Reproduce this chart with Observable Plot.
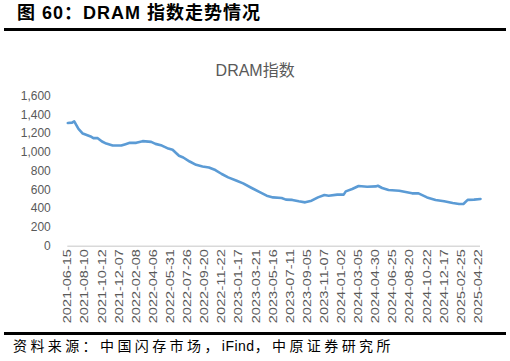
<!DOCTYPE html>
<html><head><meta charset="utf-8">
<script src="https://cdn.jsdelivr.net/npm/d3@7"></script>
<script src="https://cdn.jsdelivr.net/npm/@observablehq/plot@0.6"></script>
<style>
body{margin:0;background:#fff;width:510px;height:361px;position:relative;overflow:hidden;font-family:"Liberation Sans",Arial,"Noto Sans CJK SC",sans-serif;}
#h{position:absolute;left:17px;top:1px;font-size:18px;font-weight:bold;line-height:24px;white-space:nowrap;color:#000;letter-spacing:1px;}
.rule{position:absolute;left:4px;width:502px;height:3px;background:#000;}
#chart{position:absolute;left:0;top:35px;}
#src{position:absolute;left:13px;top:335px;font-size:14px;letter-spacing:3.4px;line-height:20px;white-space:nowrap;color:#000;font-family:"Noto Sans CJK SC","Liberation Sans",sans-serif;}
#src .lat{letter-spacing:0.5px;font-family:"Liberation Sans",Arial,sans-serif;}
</style></head><body>
<div id="h">图 60：DRAM 指数走势情况</div>
<div class="rule" style="top:28px"></div>
<div id="chart"></div>
<div class="rule" style="top:332px"></div>
<div id="src">资料来源：中国闪存市场，<span class="lat">iFind</span>，中原证券研究所</div>
<script>
const chartTitle = "DRAM指数";
const tickLabels = ["2021-06-15","2021-08-10","2021-10-12","2021-12-07","2022-02-08","2022-04-06","2022-05-31","2022-07-26","2022-09-20","2022-11-22","2023-01-17","2023-03-21","2023-05-16","2023-07-11","2023-09-05","2023-11-07","2024-01-02","2024-03-05","2024-04-30","2024-06-25","2024-08-20","2024-10-22","2024-12-17","2025-02-25","2025-04-22"];
const tickWeeks = tickLabels.map((_, i) => i * 8);
const yTicks = [0,200,400,600,800,1000,1200,1400,1600];
const weeks = [0,2,3,5,7,11,12,14,16,18,21,25,27,29,32,35,39,41,44,47,49,52,54,57,60,63,66,69,72,75,79,82,86,90,93,96,100,102,105,108,111,114,117,120,122,126,129,130,133,136,140,144,145,147,150,155,158,161,164,168,172,176,180,183,185,187,190,193];
const dramIndex = [1313,1316,1330,1250,1200,1165,1151,1151,1115,1093,1072,1072,1087,1101,1101,1119,1111,1090,1072,1040,1027,963,945,902,867,849,839,811,769,733,697,669,620,573,538,520,514,496,493,478,467,485,520,546,538,549,549,584,609,641,634,637,644,620,599,591,577,563,563,520,493,478,460,450,450,493,496,503];

const data = weeks.map((w, i) => ({week: w, value: dramIndex[i]}));

const chart = Plot.plot({
  width: 510, height: 295,
  marginLeft: 67.3, marginRight: 30, marginTop: 60.5, marginBottom: 84.3,
  style: {fontFamily: "'Liberation Sans', Arial, 'Noto Sans CJK SC', sans-serif", background: "transparent", overflow: "visible"},
  x: {domain: [0, 193], axis: null},
  y: {domain: [0, 1600], axis: null},
  marks: [
    Plot.ruleY([0], {stroke: "#d9d9d9", strokeWidth: 1.5}),
    Plot.axisY({ticks: yTicks, tickFormat: d3.format(","), tickSize: 0, tickPadding: 17, fontSize: 12, fill: "#595959", label: null}),
    Plot.axisX({ticks: tickWeeks, tickFormat: d => tickLabels[Math.round(d / 8)], tickRotate: -90, tickSize: 0, tickPadding: 3, fontSize: 11, fill: "#595959", label: null}),
    Plot.line(data, {x: "week", y: "value", stroke: "#5B9BD5", strokeWidth: 2.6}),
    Plot.text([chartTitle], {text: d => d, frameAnchor: "top", dx: -19, dy: -31.5, fontSize: 16, fill: "#595959"})
  ]
});
document.getElementById("chart").appendChild(chart);
d3.select(chart).selectAll('g[aria-label="x-axis tick label"] text')
  .attr("textLength", 74).attr("lengthAdjust", "spacingAndGlyphs");
</script>
</body></html>
